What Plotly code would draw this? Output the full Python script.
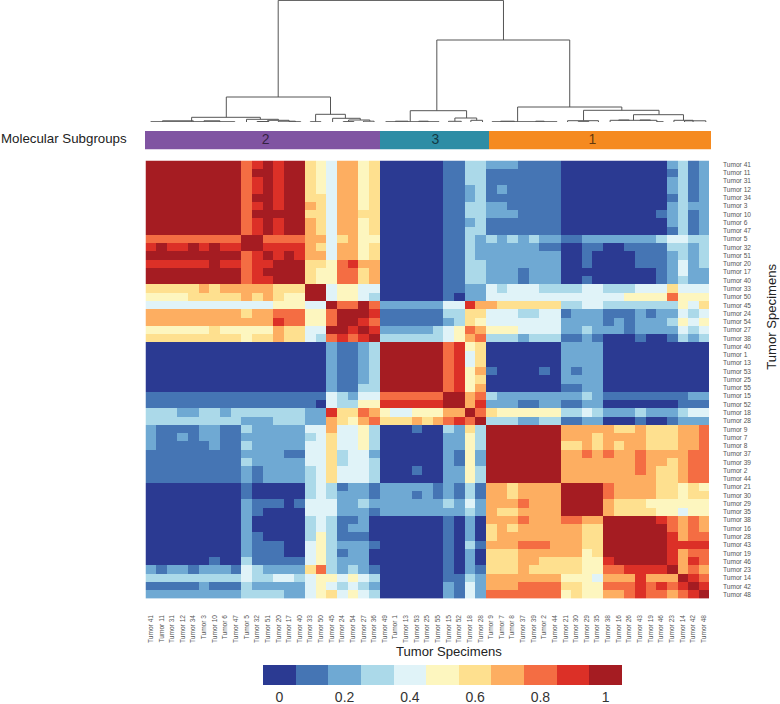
import plotly.graph_objects as go

W, H = 780, 704

COL_LABELS = [41,11,31,12,34,3,10,6,47,5,32,51,20,17,40,33,50,45,24,54,27,36,49,1,13,53,25,55,15,52,18,28,
              9,7,8,37,39,2,44,21,30,29,35,38,16,26,43,19,46,23,14,42,48]
ROW_LABELS = [41,11,31,12,34,3,10,6,47,5,32,51,20,17,40,33,50,45,24,54,27,38,40,1,13,53,25,55,15,52,18,28,
              9,7,8,37,39,2,44,21,30,29,35,38,16,28,43,19,46,23,14,42,48]

# Consensus values in tenths per cell (a = 1.0)
CONSENSUS_ROWS = [
 "aaaaaaaaa 89a9aa 65 47756 00000 01133 2221111 0000 000000 2312",
 "aaaaaaaaa 8aa9aa 65 47756 00000 01133 1111111 0000 000000 1312",
 "aaaaaaaaa 89a9aa 65 47756 00000 01133 1111111 0000 000000 2312",
 "aaaaaaaaa 89a9aa 65 47756 00000 01123 1211111 0000 000000 2312",
 "aaaaaaaaa 8aa9aa 66 47756 00000 01123 1111111 0000 000000 1312",
 "aaaaaaaaa 89a9aa 76 47756 00000 01133 2211111 0000 000000 2322",
 "aaaaaaaaa 8aaaaa 66 47766 00000 01133 2221111 0000 000001 2312",
 "aaaaaaaaa 89a9aa 76 47756 00000 01123 1111111 0000 000000 2312",
 "aaaaaaaaa 89a9aa 76 47756 00000 01133 1111111 0000 000000 1312",
 "888888888 aa8888 77 46755 00000 01132 3232322 1122 222223 4433",
 "9a99a9a99 aa9999 76 47756 00000 01132 2222211 0011 001111 3323",
 "aaaaaaaaa 89a9a9 77 47756 00000 01132 2222222 0010 000111 2323",
 "999999a99 899aaa 66 58977 00000 01133 2222222 0010 000111 2423",
 "aaaaaaaaa 89aaaa 65 58867 00000 01133 2221222 0000 000001 2422",
 "aaaaaaaaa 899aaa 65 58867 00000 01133 2221222 0010 000001 2322",
 "666667677 777666 aa 45544 00000 01122 4344433 3344 333444 6444",
 "555566666 767655 aa 45543 00000 01022 4444444 4444 445555 8555",
 "444444444 444555 44 a88a8 22222 24497 7666666 3344 333333 3546",
 "777777777 677888 55 8aaa9 11111 13366 4443344 1222 111212 2434",
 "777777777 777988 55 8aa98 11111 12365 4444444 2222 121222 3545",
 "555555655 555766 44 aa9a9 22222 34587 5554444 2232 221222 2434",
 "666666666 566766 43 8989a 33333 34578 3332333 1121 000100 1323",
 "000000000 000000 00 21123 aaaaa a8956 0000000 2222 000000 0000",
 "000000000 000000 00 21123 aaaaa a8946 0000000 2222 000000 0000",
 "000000000 000000 00 21123 aaaaa a8946 0000000 2222 000000 0000",
 "000000000 000000 00 21123 aaaaa a8957 1000010 2122 000000 0000",
 "000000000 000000 00 21123 aaaaa a8956 0000000 2222 000000 0000",
 "000000000 000000 00 21133 aaaaa a8957 0000000 1122 000000 0000",
 "111111111 111111 11 43244 88888 8aa78 3222222 2232 111111 1122",
 "111111111 111111 10 43355 99999 9aa79 2221122 1122 000000 0111",
 "333223323 333333 22 96687 54455 577a8 6555555 3343 222322 2344",
 "333333333 222333 22 76578 66676 7898a 3332233 1122 000100 1222",
 "211112211 322222 44 74453 00010 03263 aaaaaaa 7777 766766 6778",
 "211212211 222222 34 64453 00000 02253 aaaaaaa 7776 777766 6778",
 "211111211 322222 44 64453 00000 02253 aaaaaaa 6676 767766 6778",
 "111111111 222211 44 63442 00000 02152 aaaaaaa 7787 877877 7788",
 "111111111 322222 44 63443 00000 02152 aaaaaaa 7777 777877 6788",
 "111111111 212222 34 64443 00010 02253 aaaaaaa 7777 777876 6788",
 "111111111 212222 34 64443 00000 02253 aaaaaaa 7777 777776 6788",
 "000000000 100000 34 31221 22222 12131 7767777 aaaa 877776 6565",
 "000000000 100000 34 32221 22212 12131 7767777 aaaa 877776 6566",
 "000000000 211101 44 42232 22222 23242 7778777 aaaa 766655 5555",
 "000000000 210000 44 42221 22222 22232 7667777 aaaa 766665 5455",
 "000000000 200000 34 31120 00000 01020 7778777 8877 aaaaa9 8787",
 "000000000 200000 34 31220 00000 01020 6767777 7766 aaaaaa 8787",
 "000000000 210000 35 31110 00000 01020 6777777 7766 aaaaaa 9788",
 "000000000 211100 45 32221 00000 01031 7778887 7766 aaaaaa 9999",
 "000000000 211100 45 31220 00000 01020 6667777 7756 aaaaaa 9788",
 "000000100 311111 45 32220 00000 01020 6667766 6655 9aaaaa 9798",
 "212212221 432222 68 32321 00000 01021 6667666 6655 889999 a787",
 "333333333 433443 45 54543 00000 01132 7777777 5554 777977 7a98",
 "111112111 322222 45 43432 00000 02142 7778888 6655 888989 89a9",
 "222222222 333322 45 64543 00000 02142 8888888 5655 778988 789a",
]

LEVEL_COLORS = ["#2b3a92","#4575b4","#6fa9d3","#abd9e9","#e0f3f8","#fdf6bf",
                "#fee08f","#fdae61","#f46d43","#dc3027","#a51c22"]
COLORBAR_TICKS = [0, 0.2, 0.4, 0.6, 0.8, 1]

SUBGROUP_NAMES = ["2", "3", "1"]
SUBGROUP_SPANS = [22, 10.2, 20.8]
SUBGROUP_COLORS = ["#8054a2", "#2e8da5", "#f58a20"]
SUBGROUP_LABEL_POS = [11.3, 27.2, 41.9]

# Dendrogram merges: left x, right x (column units), merge height, left foot, right foot
DENDRO = [
 (11.98,33.17,121.6,25,82), (7.1,16.9,25,4.7,7.7), (3.84,10.3,4.7,.6,2.7), (15.5,18.3,7.7,.3,3.7),
 (26.9,39.4,82,11.3,15), (24.4,29.7,11.3,.3,4), (28.6,30.65,4,.7,1.7), (34.5,44.3,15,.3,11.7),
 (40.7,47.8,11.7,1.3,7.3), (45.4,50.1,7.3,1.7,1.7),
 (0,7.9,.3,0,0), (1.1,4,1.2,.3,.3), (5,6.5,1.2,.3,.3),
 (9,12,2.7,0,1.7), (10,11.1,.5,0,0), (11,13,1.7,.4,.8), (12,13.6,.8,0,0), (13,14.1,.3,0,0),
 (15,16,.3,0,0), (17.1,19.7,3.7,0,2), (18.1,19.1,.4,0,0), (18.6,20.6,2,.8,.8), (20,21,.8,0,0),
 (22.1,27.1,.3,0,0), (23,24.2,.8,.3,.3), (25.2,26.1,.8,.3,.3), (28,29.2,.7,0,0), (30.1,31.2,1.7,0,0),
 (32.1,38.2,.3,0,0), (32.9,34.2,.8,.3,.3), (36.2,37,.8,.3,.3),
 (39.2,42.1,1.3,0,0), (40.2,41.2,.3,0,0), (43.2,47.6,1.7,0,0), (44,45,2,1.7,1.7), (46,47,2,1.7,1.7), (47.6,48.2,.3,0,0),
 (49.2,51,1.7,0,0), (50.2,52.2,1.2,0,0),
]

TICK_GREY = "#555555"
FONT = "Liberation Sans, Arial, sans-serif"

def to_x(px): return px / W
def to_y(px): return 1 - px / H

z = [[int(c, 16) / 10 for c in row.replace(" ", "")] for row in CONSENSUS_ROWS]

zmin, zmax = -0.05, 1.05
n = len(LEVEL_COLORS)
colorscale = []
for i, col in enumerate(LEVEL_COLORS):
    colorscale += [[i / n, col], [(i + 1) / n, col]]

fig = go.Figure()
fig.add_trace(go.Heatmap(
    z=z, x=list(range(53)), y=list(range(53)), zmin=zmin, zmax=zmax, colorscale=colorscale,
    hoverinfo="skip",
    colorbar=dict(orientation="h", thickness=20, thicknessmode="pixels", len=359, lenmode="pixels",
                  x=442.5 / W, xanchor="center", y=to_y(665), yanchor="top", xpad=0, ypad=0,
                  tickvals=COLORBAR_TICKS, ticktext=[str(t) for t in COLORBAR_TICKS], ticks="",
                  tickfont=dict(size=14, color="#333333", family=FONT), outlinewidth=0, borderwidth=0),
))

dx, dy = [], []
for xl, xr, top, fl, fr in DENDRO:
    dx += [xl, xl, xr, xr, None]
    dy += [fl, top, top, fr, None]
fig.add_trace(go.Scatter(x=dx, y=dy, mode="lines", xaxis="x2", yaxis="y2", hoverinfo="skip",
                         line=dict(color="#555555", width=1), showlegend=False))

for name, span, col in zip(SUBGROUP_NAMES, SUBGROUP_SPANS, SUBGROUP_COLORS):
    fig.add_trace(go.Bar(x=[span], y=[0], orientation="h", marker=dict(color=col, line=dict(width=0)),
                         xaxis="x3", yaxis="y3", showlegend=False, hoverinfo="skip", name=name))
fig.add_trace(go.Scatter(x=SUBGROUP_LABEL_POS, y=[0, 0, 0], text=SUBGROUP_NAMES, mode="text",
                         textfont=dict(size=14, color="rgba(0,0,0,0.62)", family=FONT),
                         xaxis="x3", yaxis="y3", showlegend=False, hoverinfo="skip"))

fig.update_layout(
    width=W, height=H, margin=dict(l=0, r=0, t=0, b=0, pad=0), autosize=False,
    paper_bgcolor="white", plot_bgcolor="white", barmode="stack", bargap=0,
    font=dict(family=FONT, color="#222222"),
    xaxis=dict(domain=[to_x(145.5), to_x(709)], range=[-0.5, 52.5], anchor="y", showgrid=False, zeroline=False,
               tickmode="array", tickvals=list(range(53)), ticktext=[f"Tumor {v}" for v in COL_LABELS],
               tickangle=-90, tickfont=dict(size=6.6, color=TICK_GREY, family=FONT), ticks="", showline=False,
               ticklabelstandoff=14),
    yaxis=dict(domain=[to_y(598.7), to_y(160.5)], range=[52.5, -0.5], anchor="x", side="right", showgrid=False,
               zeroline=False, tickmode="array", tickvals=list(range(53)),
               ticktext=[f"Tumor {v}" for v in ROW_LABELS],
               tickfont=dict(size=6.6, color=TICK_GREY, family=FONT), ticks="", showline=False,
               ticklabelstandoff=13),
    xaxis2=dict(domain=[to_x(145.5), to_x(709)], range=[-0.5, 52.5], anchor="y2", visible=False),
    yaxis2=dict(domain=[to_y(122), to_y(0)], range=[0, 122], anchor="x2", visible=False),
    xaxis3=dict(domain=[to_x(145), to_x(711)], range=[0, 53], anchor="y3", visible=False),
    yaxis3=dict(domain=[to_y(149.3), to_y(130.7)], range=[-0.5, 0.5], anchor="x3", visible=False),
    annotations=[
        dict(text="Molecular Subgroups", x=to_x(-1), y=to_y(138.5), xref="paper", yref="paper", xanchor="left",
             yanchor="middle", showarrow=False, font=dict(size=13.3, color="#222222", family=FONT)),
        dict(text="Tumor Specimens", x=to_x(448.7), y=to_y(651), xref="paper", yref="paper", xanchor="center",
             yanchor="middle", showarrow=False, font=dict(size=13.1, color="#222222", family=FONT)),
        dict(text="Tumor Specimens", x=to_x(771.7), y=to_y(317), xref="paper", yref="paper", xanchor="center",
             yanchor="middle", textangle=-90, showarrow=False, font=dict(size=13.1, color="#222222", family=FONT)),
    ],
)

fig.write_html("out.html", config={"displayModeBar": False},
               post_script="document.body.style.margin='0';document.documentElement.style.overflow='hidden';")
